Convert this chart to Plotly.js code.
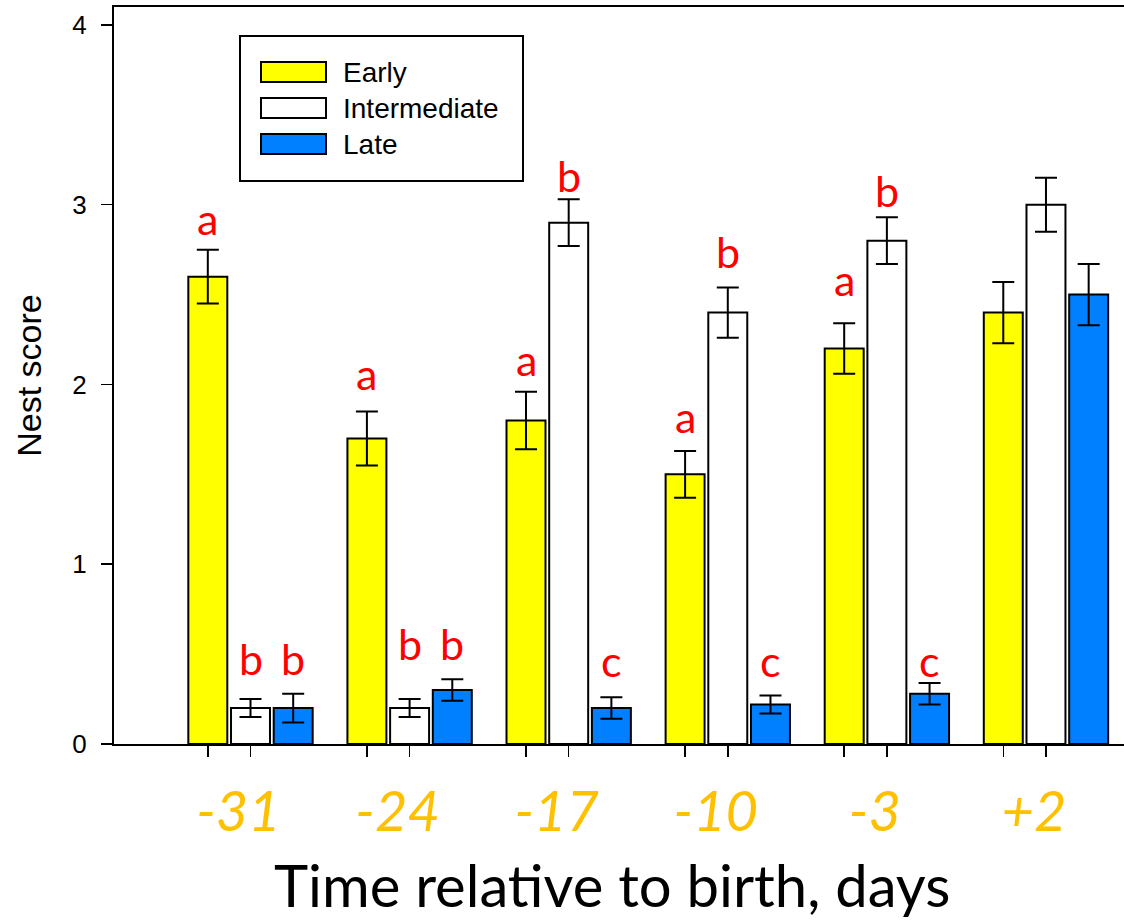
<!DOCTYPE html>
<html>
<head>
<meta charset="utf-8">
<script src="https://cdn.plot.ly/plotly-3.0.1.min.js"></script>
<style>
html,body{margin:0;padding:0;background:#fff;overflow:hidden;}
#chart{width:1140px;height:922px;}
</style>
</head>
<body>
<div id="chart"></div>
<script>
// ---- data ----
const groups = [0, 1, 2, 3, 4, 5];
const tickLabels = ['-31', '-24', '-17', '-10', '-3', '+2'];
const seriesNames = ['Early', 'Intermediate', 'Late'];

const early = [2.6, 1.7, 1.8, 1.5, 2.2, 2.4];
const earlyErr = [0.15, 0.15, 0.16, 0.13, 0.14, 0.17];
const intermediate = [0.2, 0.2, 2.9, 2.4, 2.8, 3.0];
const intermediateErr = [0.05, 0.05, 0.13, 0.14, 0.13, 0.15];
const late = [0.2, 0.3, 0.2, 0.22, 0.28, 2.5];
const lateErr = [0.08, 0.06, 0.06, 0.05, 0.06, 0.17];

const earlyLetters = ['a', 'a', 'a', 'a', 'a', ''];
const intermediateLetters = ['b', 'b', 'b', 'b', 'b', ''];
const lateLetters = ['b', 'b', 'c', 'c', 'c', ''];
// letter baseline heights (nest score units)
const earlyLetterY = [2.83, 1.97, 2.05, 1.73, 2.49, null];
const intermediateLetterY = [0.384, 0.467, 3.07, 2.65, 2.99, null];
const lateLetterY = [0.384, 0.467, 0.373, 0.373, 0.373, null];

const yTicks = [0, 1, 2, 3, 4];

// ---- styling ----
const colors = ['#FFFF00', '#FFFFFF', '#0080FF'];
const BARGAP = 0.195, BARGROUPGAP = 0.087;
const slot = (1 - BARGAP) / 3;
const XRANGE = [-0.858, 5.591];
const YRANGE = [0, 4.1];
const M = {l: 114, r: 0, t: 7, b: 178};
const W = 1140, H = 922;
const PW = W - M.l - M.r, PH = H - M.t - M.b;
const fx = px => (px - M.l) / PW;
const fy = py => (H - M.b - py) / PH;

const values = [early, intermediate, late];
const errs = [earlyErr, intermediateErr, lateErr];
const letters = [earlyLetters, intermediateLetters, lateLetters];
const letterY = [earlyLetterY, intermediateLetterY, lateLetterY];

const traces = values.map((v, k) => ({
  type: 'bar',
  name: seriesNames[k],
  x: groups,
  y: v,
  xaxis: 'x', yaxis: 'y',
  marker: {color: colors[k], line: {color: '#000000', width: 2}},
  error_y: {type: 'data', array: errs[k], visible: true, color: '#000000', thickness: 2, width: 11},
  showlegend: false,
  hoverinfo: 'x+y'
}));
traces.push({type: 'scatter', x: [], y: [], xaxis: 'x2', yaxis: 'y', showlegend: false, hoverinfo: 'skip'});

// x ticks at Early and Intermediate bar centres, as in the figure
const xTickVals = [];
groups.forEach(g => { xTickVals.push(g - slot); xTickVals.push(g); });

const annotations = [];
letters.forEach((arr, k) => {
  arr.forEach((t, i) => {
    if (!t) return;
    annotations.push({
      xref: 'x', yref: 'y', x: groups[i] + (k - 1) * slot, y: letterY[k][i],
      text: t, showarrow: false, xanchor: 'center', yanchor: 'bottom', yshift: -11,
      font: {family: 'Lato, "Open Sans", sans-serif', size: 43, color: '#FF0000'}
    });
  });
});

// x axis title
annotations.push({
  xref: 'paper', yref: 'paper', x: fx(611.5), y: fy(848), xanchor: 'center', yanchor: 'top',
  text: 'Time relative to birth, days', showarrow: false,
  font: {family: 'Lato, "Open Sans", sans-serif', size: 58, color: '#000000'}
});

// legend (box, swatches, labels)
const shapes = [{
  type: 'rect', xref: 'paper', yref: 'paper',
  x0: fx(240), x1: fx(523), y0: fy(181), y1: fy(36),
  line: {color: '#000000', width: 2}, fillcolor: '#FFFFFF', layer: 'above'
}];
const rowTops = [62, 98, 134];
seriesNames.forEach((n, k) => {
  shapes.push({
    type: 'rect', xref: 'paper', yref: 'paper',
    x0: fx(261), x1: fx(326), y0: fy(rowTops[k] + 20), y1: fy(rowTops[k]),
    line: {color: '#000000', width: 2}, fillcolor: colors[k], layer: 'above'
  });
  annotations.push({
    xref: 'paper', yref: 'paper', x: fx(341), y: fy(rowTops[k] + 10),
    xanchor: 'left', yanchor: 'middle', text: n, showarrow: false,
    font: {family: '"Liberation Sans", Arial, sans-serif', size: 28, color: '#000000'}
  });
});

const layout = {
  width: W, height: H,
  margin: M,
  paper_bgcolor: '#FFFFFF', plot_bgcolor: '#FFFFFF',
  barmode: 'group', bargap: BARGAP, bargroupgap: BARGROUPGAP,
  showlegend: false,
  font: {family: '"Liberation Sans", Arial, sans-serif', color: '#000000'},
  xaxis: {
    type: 'linear', range: XRANGE, fixedrange: true,
    showgrid: false, zeroline: false,
    showline: true, linecolor: '#000000', linewidth: 2, mirror: true,
    ticks: 'outside', ticklen: 11, tickwidth: 1.5, tickcolor: '#000000',
    tickmode: 'array', tickvals: xTickVals, ticktext: xTickVals.map(() => ''),
    showticklabels: true
  },
  xaxis2: {
    type: 'linear', range: XRANGE.map(v => v + 12 / PW * (XRANGE[1] - XRANGE[0])),
    overlaying: 'x', anchor: 'y', side: 'bottom', fixedrange: true,
    showgrid: false, zeroline: false, showline: false, ticks: '',
    tickmode: 'array', tickvals: groups, ticktext: tickLabels,
    ticklabelstandoff: 30,
    tickfont: {family: 'Lato, "Open Sans", sans-serif', size: 56, color: '#FFC000', style: 'italic'}
  },
  yaxis: {
    range: YRANGE, fixedrange: true,
    showgrid: false, zeroline: false,
    showline: true, linecolor: '#000000', linewidth: 2, mirror: true,
    ticks: 'outside', ticklen: 11, tickwidth: 1.5, tickcolor: '#000000',
    tickmode: 'array', tickvals: yTicks, ticktext: yTicks.map(String),
    ticklabelstandoff: 9,
    tickfont: {family: '"Liberation Sans", Arial, sans-serif', size: 26, color: '#000000'},
    title: {text: 'Nest score', standoff: 20, font: {family: '"Liberation Sans", Arial, sans-serif', size: 34, color: '#000000'}},
    automargin: false
  },
  annotations: annotations,
  shapes: shapes
};

Plotly.newPlot('chart', traces, layout, {displayModeBar: false, staticPlot: true});
</script>
</body>
</html>
